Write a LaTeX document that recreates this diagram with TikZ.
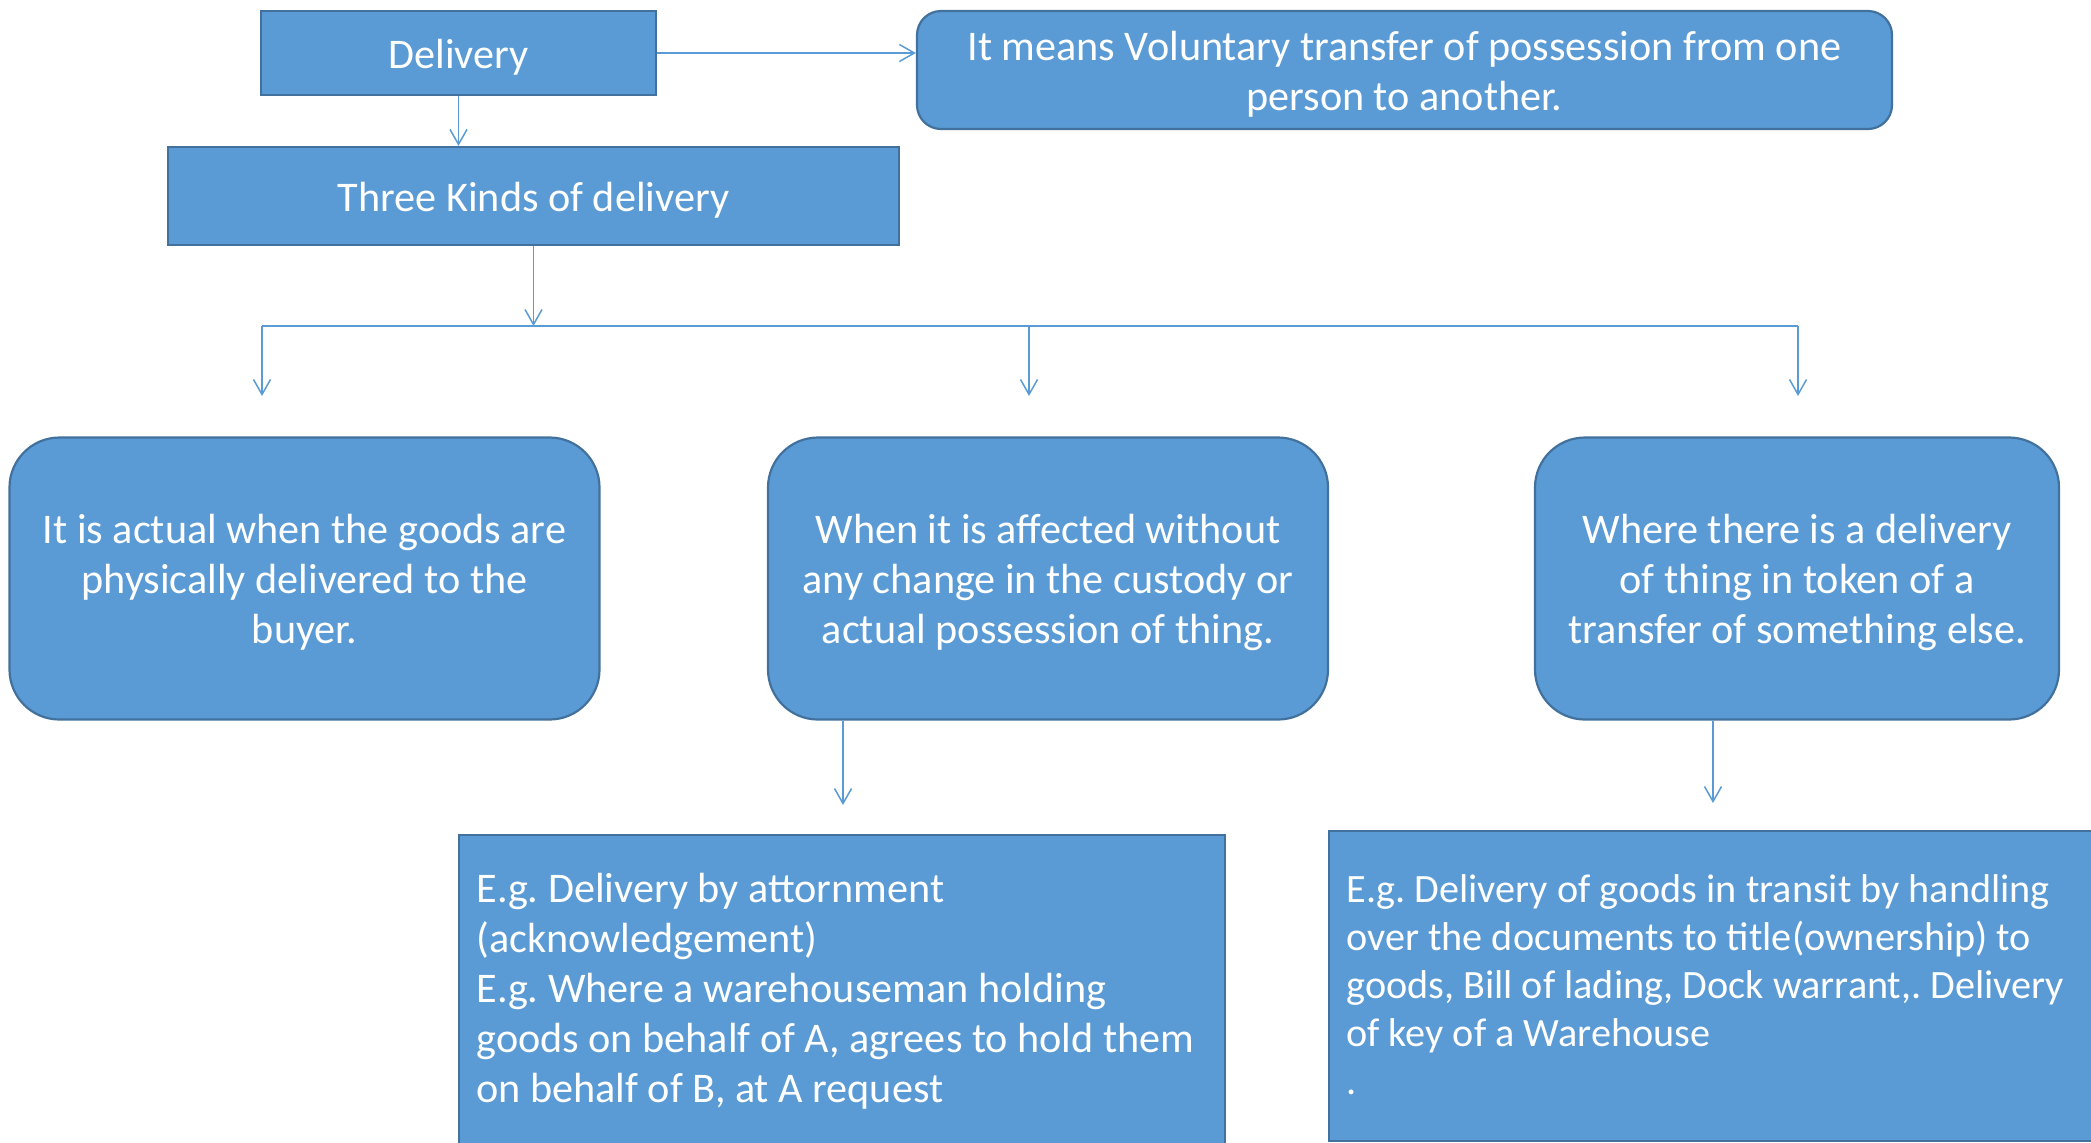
\documentclass[tikz,border=0pt]{standalone}
\usepackage{fontspec}
\setmainfont{Carlito}
\usetikzlibrary{arrows.meta}
\definecolor{boxfill}{HTML}{5B9BD5}
\definecolor{boxline}{HTML}{41719C}
\frenchspacing
\begin{document}
\begin{tikzpicture}[x=0.5pt,y=-0.5pt,
  blk/.style={draw=boxline, line width=1.1pt, fill=boxfill, inner sep=0pt},
  rnd/.style={blk, rounded corners=#1},
  lbl/.style={text=white, inner sep=0pt, align=center, yshift=-2pt,
    font=\fontsize{21.1}{25}\selectfont},
  bodytext/.style={text=white, inner sep=0pt, anchor=base west},
  conn/.style={draw=boxfill, line width=0.75pt,
    -{Straight Barb[length=7.5pt,width=8.5pt]}},
  wire/.style={draw=boxfill, line width=0.75pt}
]
\useasboundingbox (0,0) rectangle (2091,1142);
\clip (0,0) rectangle (2091,1142);

% top row
\node[blk, minimum width=197.5pt, minimum height=42pt] (del) at (458.5,53) {};
\node[lbl] (delt) at (del) {Delivery};
\node[rnd=12pt, minimum width=487.5pt, minimum height=59pt] (def) at (1404.5,70) {};
\node[lbl] (deft) at (def) {It means Voluntary transfer of possession from one\\person to another.};
\node[blk, minimum width=365.5pt, minimum height=49pt] (kinds) at (533.5,196) {};
\node[lbl] (kindst) at (kinds) {Three Kinds of delivery};

% the three kinds
\node[rnd=25pt, minimum width=295pt, minimum height=141pt] (actual) at (304.5,578.5) {};
\node[lbl] (actualt) at (actual) {It is actual when the goods are\\physically delivered to the\\buyer.};
\node[rnd=25pt, minimum width=280pt, minimum height=141pt] (constr) at (1048,578.5) {};
\node[lbl] (constrt) at (constr) {When it is affected without\\any change in the custody or\\actual possession of thing.};
\node[rnd=25pt, minimum width=262pt, minimum height=141pt] (symb) at (1797,578.5) {};
\node[lbl] (symbt) at (symb) {Where there is a delivery\\of thing in token of a\\transfer of something else.};

% examples
\node[blk, minimum width=383pt, minimum height=165pt] (exD) at (842,1000) {};
\node[blk, minimum width=392pt, minimum height=155pt] (exE) at (1721,986) {};

\node[bodytext] (exDtxt) at (476,902)
  {\parbox[t]{380pt}{\fontsize{21.1}{25}\selectfont\raggedright
   E.g. Delivery by attornment\\(acknowledgement)\\E.g. Where a warehouseman holding\\goods on behalf of A, agrees to hold them\\on behalf of B, at A request}};
\node[bodytext] (exEtxt) at (1346,902)
  {\parbox[t]{380pt}{\fontsize{20.1}{24}\selectfont\raggedright
   E.g. Delivery of goods in transit by handling\\over the documents to title(ownership) to\\goods, Bill of lading, Dock warrant,. Delivery\\of key of a Warehouse\\.}};

% connectors
\draw[conn] (del.east) -- (def.west |- del.east);
\draw[conn] (del.south) -- (del.south |- kinds.north);

\coordinate (hub) at (kinds.south |- 0,326);
\coordinate (brA) at (262,326);
\coordinate (brB) at (1029,326);
\coordinate (brC) at (1798,326);
\coordinate (endA) at (262,396);
\coordinate (endB) at (1029,396);
\coordinate (endC) at (1798,396);
\draw[conn] (kinds.south) -- (hub);
\draw[wire] (brA) -- (brC);
\draw[conn] (brA) -- (endA);
\draw[conn] (brB) -- (endB);
\draw[conn] (brC) -- (endC);

\coordinate (endD) at (843,805);
\coordinate (endE) at (1713,803);
\draw[conn] (endD |- constr.south) -- (endD);
\draw[conn] (endE |- symb.south) -- (endE);
\end{tikzpicture}
\end{document}
